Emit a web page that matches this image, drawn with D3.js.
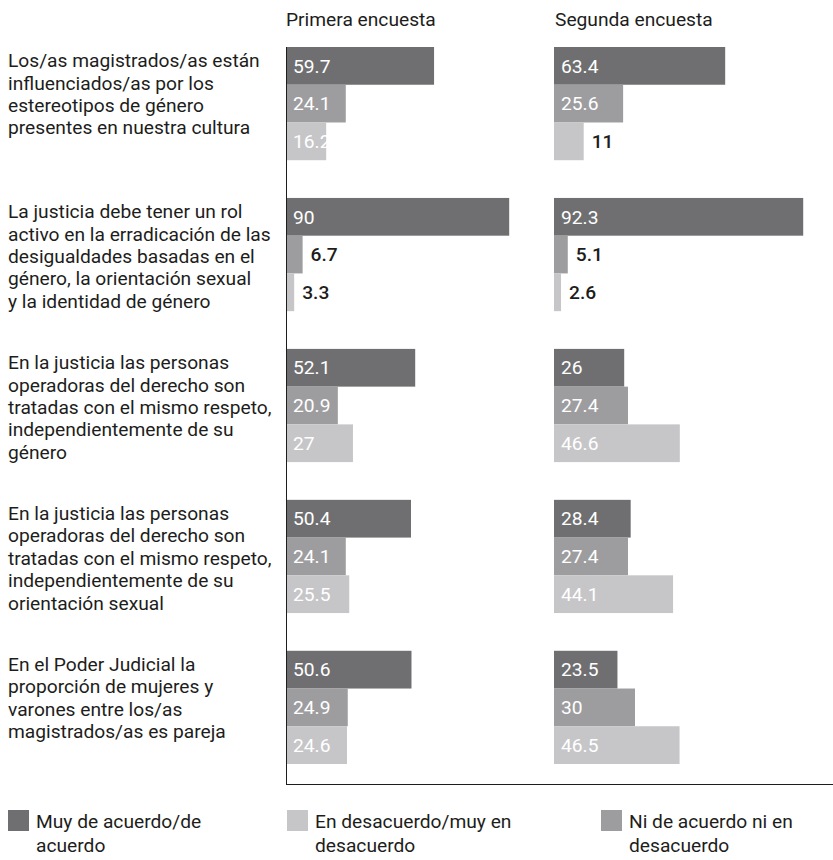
<!DOCTYPE html>
<html><head><meta charset="utf-8">
<script src="https://cdn.jsdelivr.net/npm/d3@7"></script>
<style>
body{margin:0;background:#fff;}
svg text{font-family:Roboto,"Open Sans",sans-serif;}
</style></head>
<body><svg id="c" width="833" height="860"></svg>
<script>
const categories = [
  ["Los/as magistrados/as están","influenciados/as por los","estereotipos de género","presentes en nuestra cultura"],
  ["La justicia debe tener un rol","activo en la erradicación de las","desigualdades basadas en el","género, la orientación sexual","y la identidad de género"],
  ["En la justicia las personas","operadoras del derecho son","tratadas con el mismo respeto,","independientemente de su","género"],
  ["En la justicia las personas","operadoras del derecho son","tratadas con el mismo respeto,","independientemente de su","orientación sexual"],
  ["En el Poder Judicial la","proporción de mujeres y","varones entre los/as","magistrados/as es pareja"]
];
const seriesNames = ["Muy de acuerdo/de acuerdo","Ni de acuerdo ni en desacuerdo","En desacuerdo/muy en desacuerdo"];
const seriesColors = ["#6f6f71","#9d9d9f","#c6c6c8"];
const panelTitles = ["Primera encuesta","Segunda encuesta"];
const muyDeAcuerdo1 = [59.7, 90, 52.1, 50.4, 50.6];
const niDeAcuerdo1  = [24.1, 6.7, 20.9, 24.1, 24.9];
const enDesacuerdo1 = [16.2, 3.3, 27, 25.5, 24.6];
const muyDeAcuerdo2 = [63.4, 92.3, 26, 28.4, 23.5];
const niDeAcuerdo2  = [25.6, 5.1, 27.4, 27.4, 30];
const enDesacuerdo2 = [11, 2.6, 46.6, 44.1, 46.5];
const legendOrder = [0, 2, 1];
const legendLines = [["Muy de acuerdo/de","acuerdo"],["Ni de acuerdo ni en","desacuerdo"],["En desacuerdo/muy en","desacuerdo"]];

const panels = [
  [muyDeAcuerdo1, niDeAcuerdo1, enDesacuerdo1],
  [muyDeAcuerdo2, niDeAcuerdo2, enDesacuerdo2]
];

const svg = d3.select("#c");
const FS = 19.2;
const textColor = "#1d1d1b";

const y = d3.scaleBand().domain(d3.range(categories.length)).range([47, 764]).paddingInner(0.25).paddingOuter(0);
const ySub = d3.scaleBand().domain(d3.range(3)).range([0, y.bandwidth()]).padding(0);
const xScales = [
  d3.scaleLinear().domain([0,100]).range([286, 534]),
  d3.scaleLinear().domain([0,100]).range([554, 824])
];

// category labels
categories.forEach((lines, i) => {
  const t = svg.append("text").attr("x", 8).attr("fill", textColor).attr("font-size", FS);
  lines.forEach((l, j) => {
    t.append("tspan").attr("x", 8).attr("y", y(i) + 13.5 + j*22.4).attr("dy", "0.35em").text(l);
  });
});

// panels
panels.forEach((series, p) => {
  const x = xScales[p];
  svg.append("text").attr("x", x(0) + (p===0?0:1)).attr("y", 26).attr("font-size", FS).attr("fill", textColor).text(panelTitles[p]);
  series.forEach((vals, s) => {
    const g = svg.append("g");
    g.selectAll("rect").data(vals).join("rect")
      .attr("x", x(0))
      .attr("y", (d,i) => y(i) + ySub(s))
      .attr("width", d => x(d) - x(0))
      .attr("height", ySub.bandwidth())
      .attr("fill", seriesColors[s]);
    g.selectAll("text").data(vals).join("text")
      .attr("x", d => d < 14 ? x(d) + 8 : x(0) + 7)
      .attr("y", (d,i) => y(i) + ySub(s) + ySub.bandwidth()/2)
      .attr("dy", "0.35em")
      .attr("font-size", FS)
      .attr("fill", d => d < 14 ? textColor : "#ffffff")
      .attr("font-weight", d => d < 14 ? 500 : 400)
      .text(d => d);
  });
});

// axis lines
const axisY = d3.scaleLinear().domain([0,1]).range([47, 784]);
svg.append("line").attr("x1", 286.5).attr("x2", 286.5).attr("y1", axisY(0)).attr("y2", axisY(1)+0.5).attr("stroke", "#1d1d1b").attr("stroke-width", 1);
svg.append("line").attr("x1", 286).attr("x2", 833).attr("y1", axisY(1)+0.5).attr("y2", axisY(1)+0.5).attr("stroke", "#1d1d1b").attr("stroke-width", 1);

// legend
const legendX = [8, 287, 601];
legendOrder.forEach((s, k) => {
  const lx = legendX[k];
  svg.append("rect").attr("x", lx).attr("y", 810).attr("width", 21).attr("height", 21).attr("fill", seriesColors[s]);
  const t = svg.append("text").attr("font-size", FS).attr("fill", textColor);
  legendLines[s].forEach((l, j) => {
    t.append("tspan").attr("x", lx + 28).attr("y", 821 + j*24).attr("dy", "0.35em").text(l);
  });
});
</script></body></html>
